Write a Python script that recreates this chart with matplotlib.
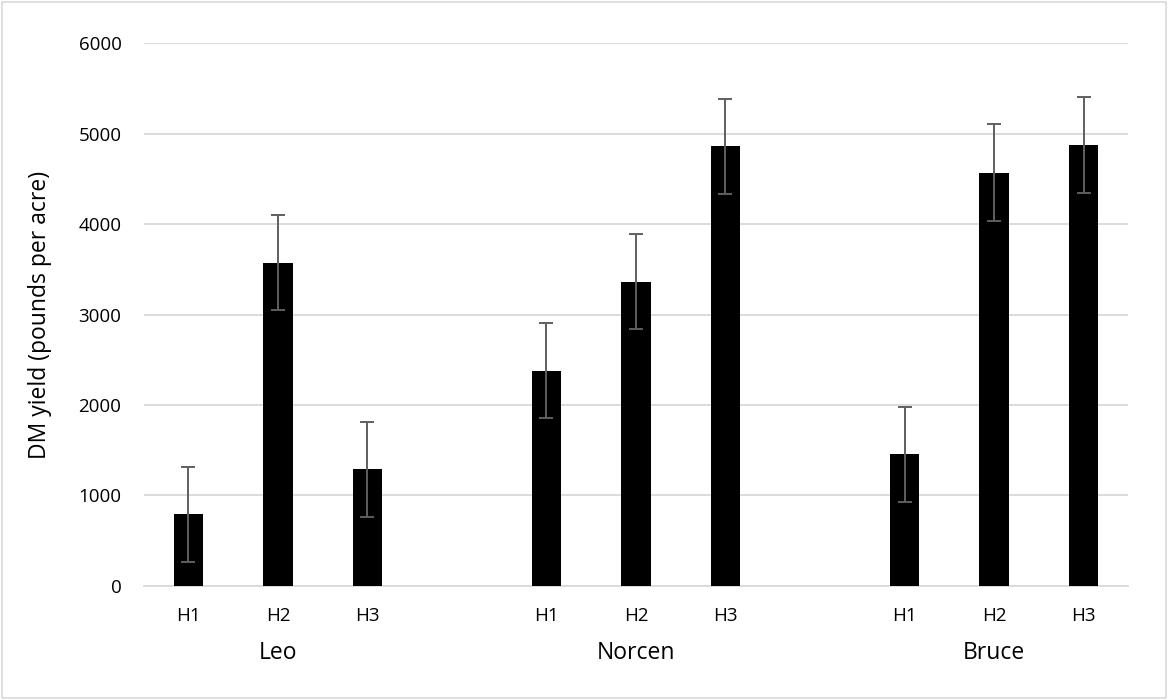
import numpy as np
import matplotlib.pyplot as plt
from matplotlib.patches import Rectangle
from matplotlib.transforms import blended_transform_factory

plt.rcParams['font.family'] = ['Open Sans', 'DejaVu Sans']

varieties = ['Leo', 'Norcen', 'Bruce']
harvests = ['H1', 'H2', 'H3']
# DM yield per harvest, one list per variety
leo = [790, 3575, 1290]
norcen = [2380, 3365, 4860]
bruce = [1455, 4570, 4880]
# error bar half-lengths
leo_err = [530, 528, 525]
norcen_err = [528, 525, 530]
bruce_err = [528, 535, 530]

yields = [leo, norcen, bruce]
errs = [leo_err, norcen_err, bruce_err]

fig = plt.figure(figsize=(11.68, 7.0), dpi=100)
ax = fig.add_axes([0.123, 0.163, 0.843, 0.775])

# one empty slot between varieties, like the excel layout
pos = []
vals = []
evals = []
labels = []
for g in range(len(varieties)):
    for h in range(len(harvests)):
        pos.append(g * 4 + h)
        vals.append(yields[g][h])
        evals.append(errs[g][h])
        labels.append(harvests[h])

ax.bar(pos, vals, width=0.33, color='black', zorder=3)
ax.errorbar(pos, vals, yerr=evals, fmt='none', ecolor='#5f5f5f',
            elinewidth=1.4, capsize=5, capthick=1.4, zorder=4)

ax.set_xlim(-0.5, 10.5)
ax.set_ylim(0, 6000)
ax.set_yticks(np.arange(0, 6001, 1000))
ax.set_xticks(pos)
ax.set_xticklabels(labels)
ax.tick_params(axis='both', length=0, labelsize=13.5, colors='#000000')
ax.tick_params(axis='x', pad=15)
ax.tick_params(axis='y', pad=16)
ax.grid(axis='y', color='#d9d9d9', linewidth=1.3, zorder=0)
for s in ['top', 'right', 'left']:
    ax.spines[s].set_visible(False)
ax.spines['bottom'].set_color('#d9d9d9')
ax.spines['bottom'].set_linewidth(1.3)

ax.set_ylabel('DM yield (pounds per acre)', fontsize=16.5)
ax.yaxis.set_label_coords(-0.093, 0.5)

trans = blended_transform_factory(ax.transData, ax.transAxes)
for g, name in enumerate(varieties):
    ax.text(g * 4 + 1, -0.1235, name, transform=trans, ha='center',
            va='center', fontsize=16.5)

fig.patches.append(Rectangle((0.002, 0.003), 0.996, 0.994, transform=fig.transFigure,
                             fill=False, edgecolor='#d9d9d9', linewidth=1.2))

fig.savefig('out.png', dpi=100, facecolor='white')
